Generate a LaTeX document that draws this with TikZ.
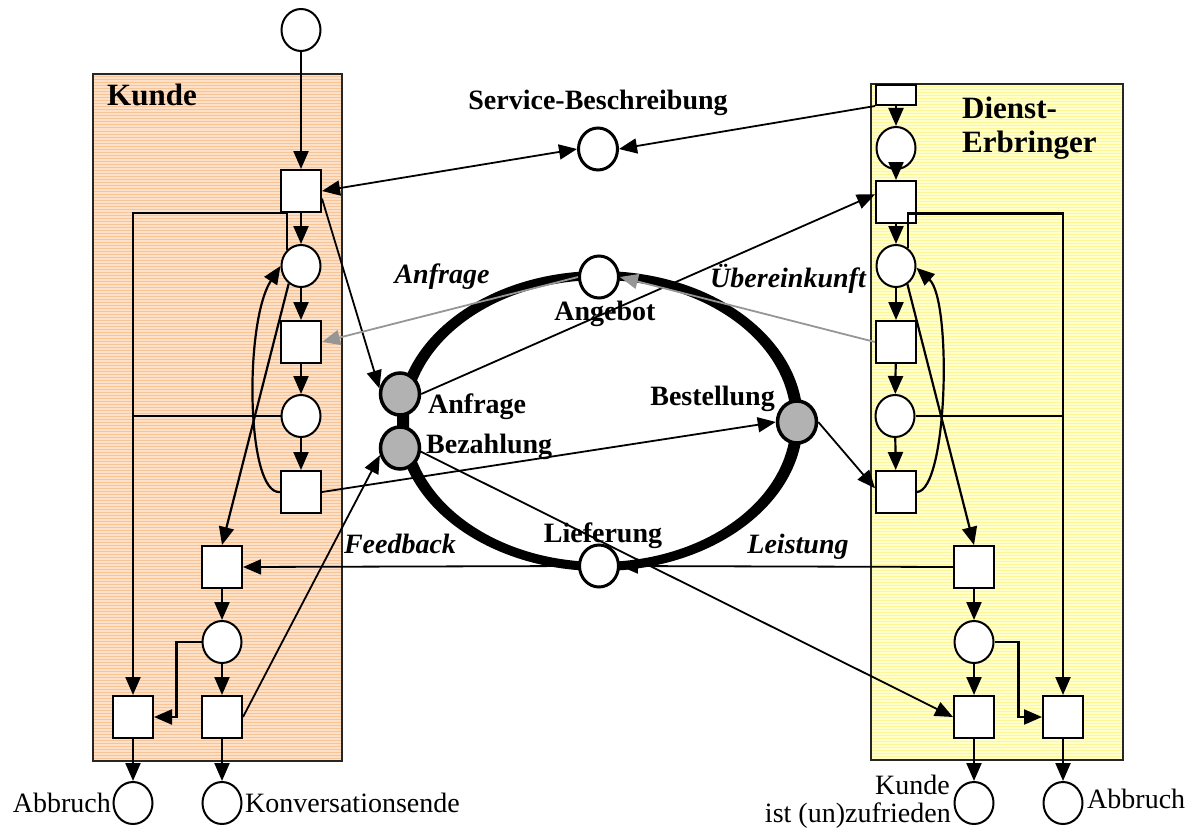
\documentclass[tikz,border=0pt]{standalone}
\usepackage{fontspec}
\setmainfont{Liberation Serif}
\usetikzlibrary{arrows.meta,shapes.geometric}
\definecolor{kfill}{RGB}{252,224,200}
\definecolor{kline}{RGB}{248,196,150}
\definecolor{dfill}{RGB}{255,254,205}
\definecolor{dline}{RGB}{255,246,150}
\definecolor{tokgray}{RGB}{178,178,178}
\definecolor{msggray}{RGB}{150,150,150}
\newcommand\titlefont{\fontsize{31}{34}\selectfont\bfseries}
\newcommand\lblfont{\fontsize{28}{30}\selectfont\bfseries}
\newcommand\arcfont{\fontsize{28}{30}\selectfont\bfseries\itshape}
\newcommand\termfont{\fontsize{28}{30}\selectfont}
\begin{document}
\begin{tikzpicture}[x=1pt,y=-1pt,
  place/.style={ellipse,draw,line width=2,fill=white,minimum width=39pt,minimum height=42pt,inner sep=0pt},
  msgplace/.style={place,line width=3},
  chanplace/.style={place,line width=3.5,fill=tokgray},
  trans/.style={rectangle,draw,line width=2,fill=white,minimum width=40pt,minimum height=42pt,inner sep=0pt},
  arc/.style={line width=2.2,-{Triangle[length=18pt,width=15pt]}},
  msg/.style={line width=1.8,-{Triangle[length=18pt,width=15pt]}},
  msgboth/.style={line width=1.8,{Triangle[length=18pt,width=15pt]}-{Triangle[length=18pt,width=15pt]}},
  grey msg/.style={line width=1.8,draw=msggray,fill=msggray,-{Triangle[length=18pt,width=15pt]}},
  plain/.style={line width=2.2},
  boxline/.style={line width=2,draw=black!85},
]
\useasboundingbox (0,0) rectangle (1193,832);

% partner boxes with striped fill
\begin{scope}
  \clip (93,74) rectangle (342,761);
  \fill[kfill] (93,74) rectangle (342,761);
  \foreach \yy in {74,77,...,761} \draw[kline,line width=1] (93,\yy) -- (342,\yy);
\end{scope}
\draw[boxline] (93,74) rectangle (342,761);
\begin{scope}
  \clip (871,84) rectangle (1123,760);
  \fill[dfill] (871,84) rectangle (1123,760);
  \foreach \yy in {84,87,...,760} \draw[dline,line width=1] (871,\yy) -- (1123,\yy);
\end{scope}
\draw[boxline] (871,84) rectangle (1123,760);

\node[anchor=base west,inner sep=0pt,font=\titlefont] (tk) at (107,106) {Kunde};
\node[anchor=base west,inner sep=0pt,align=left,font=\titlefont] (td) at (962,152) {Dienst-\\Erbringer};

% conversation cycle: a ring, heavier at its sides
\fill[even odd rule] (600,421) ellipse [x radius=203pt, y radius=150pt]
                     (600,421) ellipse [x radius=191pt, y radius=141pt];

% customer net
\node[place] (P0) at (301,30) {};
\node[trans] (T1) at (301,191) {};
\node[place] (P1) at (301,266) {};
\node[trans] (T2) at (301,342) {};
\node[place] (P2) at (301,416) {};
\node[trans] (T3) at (301,492) {};
\node[trans] (T4) at (222,567) {};
\node[place] (P3) at (222,642) {};
\node[trans] (T5) at (222,717) {};
\node[trans] (T6) at (133,717) {};
\node[place] (E1) at (133,803) {};
\node[place] (E2) at (222,803) {};

% shared places
\node[msgplace] (SB) at (598,149) {};
\node[msgplace] (Ang) at (599,277) {};
\node[msgplace] (Lief) at (599,566) {};
\node[chanplace] (Anf) at (400,394) {};
\node[chanplace] (Bez) at (400,448) {};
\node[chanplace] (Best) at (797,422) {};

% provider net
\node[trans,minimum height=20pt] (Tr0) at (896,95) {};
\node[place] (Pr1) at (896,148) {};
\node[trans] (Tr1) at (896,202) {};
\node[place] (Pr2) at (896,266) {};
\node[trans] (Tr2) at (896,342) {};
\node[place] (Pr3) at (895,416) {};
\node[trans] (Tr3) at (896,492) {};
\node[trans] (Tr4) at (974,567) {};
\node[place] (Pr4) at (974,642) {};
\node[trans] (Tr5) at (974,717) {};
\node[trans] (Tr6) at (1063,717) {};
\node[place] (F1) at (974,803) {};
\node[place] (F2) at (1063,803) {};

% labels
\node[anchor=base,inner sep=0pt] (lsb) at (598,110) {\lblfont Service-Beschreibung};
\node[anchor=base,inner sep=0pt] (lang) at (605,320) {\lblfont Angebot};
\node[anchor=base west,inner sep=0pt] (lanf) at (428,413) {\lblfont Anfrage};
\node[anchor=base west,inner sep=0pt] (lbez) at (426,453) {\lblfont Bezahlung};
\node[anchor=base east,inner sep=0pt] (lbest) at (775,405) {\lblfont Bestellung};
\node[anchor=base,inner sep=0pt] (llief) at (603,542) {\lblfont Lieferung};
\node[anchor=base,inner sep=0pt] (aanf) at (442,283) {\arcfont Anfrage};
\node[anchor=base,inner sep=0pt] (aueb) at (788,287) {\arcfont Übereinkunft};
\node[anchor=base,inner sep=0pt] (afb) at (400,553) {\arcfont Feedback};
\node[anchor=base,inner sep=0pt] (alei) at (798,553) {\arcfont Leistung};
\node[anchor=base east,inner sep=0pt] (le1) at (111,812) {\termfont Abbruch};
\node[anchor=base west,inner sep=0pt] (le2) at (245,812) {\termfont Konversationsende};
\node[anchor=base east,inner sep=0pt] (lf1a) at (950,794) {\termfont Kunde};
\node[anchor=base east,inner sep=0pt] (lf1b) at (951,822) {\termfont ist (un)zufrieden};
\node[anchor=base west,inner sep=0pt] (lf2) at (1087,808) {\termfont Abbruch};

% customer arcs
\draw[arc] (P0) -- (T1);
\draw[arc] (T1) -- (P1);
\draw[arc] (P1) -- (T2);
\draw[arc] (T2) -- (P2);
\draw[arc] (P2) -- (T3);
\draw[arc] (T4) -- (P3);
\draw[arc] (P3) -- (T5);
\draw[arc] (T5) -- (E2);
\draw[arc] (T6) -- (E1);
\draw[arc] (P1.132) -- (P1.132 |- T1.south) -| (T6.north);
\draw[plain] (P2.west) -- (P2.west -| T6.north);
\draw[arc] (P3.west) -- ++(-25,0) |- (T6.east);
\draw[arc] (T3.west) .. controls (246,495) and (244,322) .. (P1.west);
\draw[arc] (P1.235) -- (T4.north);

% provider arcs
\draw[arc] (Tr0) -- (Pr1);
\draw[arc] (Pr1) -- (Tr1);
\draw[arc] (Tr1) -- (Pr2);
\draw[arc] (Pr2) -- (Tr2);
\draw[arc] (Tr2) -- (Pr3);
\draw[arc] (Pr3) -- (Tr3);
\draw[arc] (Tr4) -- (Pr4);
\draw[arc] (Pr4) -- (Tr5);
\draw[arc] (Tr5) -- (F1);
\draw[arc] (Tr6) -- (F2);
\draw[arc] (Pr2.55) -- ++(0,-35) -| (Tr6.north);
\draw[plain] (Pr3.east) -- (Pr3.east -| Tr6.north);
\draw[arc] (Pr4.east) -- ++(24,0) |- (Tr6.west);
\draw[arc] (Tr3.east) .. controls (948,490) and (952,300) .. (Pr2.-5);
\draw[arc] (Pr2.-58) -- (Tr4.north);

% message flow between the partners
\draw[msgboth] (T1.east) -- (SB.west);
\draw[msg] (Tr0.south west) -- (SB.east);
\draw[msg] (T1.-20) -- (Anf.165);
\draw[msg] (Anf.east) -- (Tr1.160);
\draw[grey msg] (Ang.west) -- (T2.east);
\draw[grey msg] (Tr2.west) -- (Ang.east);
\draw[msg] (T3.east) -- (Best.west);
\draw[msg] (Best.east) -- (Tr3.170);
\draw[msg] (Tr4.west) -- (Lief.east);
\draw[msg] (Lief.west) -- (T4.east);
\draw[msg] (T5.east) -- (Bez.200);
\draw[msg] (Bez.-10) -- (Tr5.west);
\end{tikzpicture}
\end{document}
